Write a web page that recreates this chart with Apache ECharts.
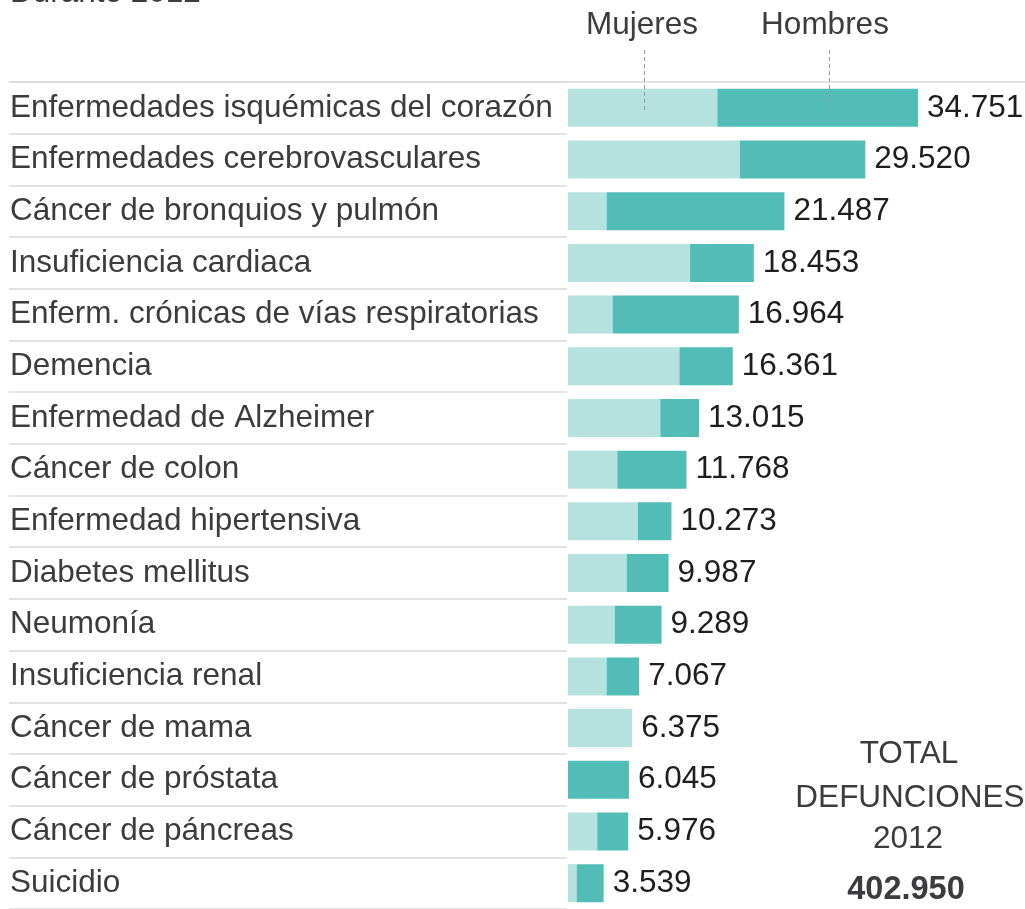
<!DOCTYPE html>
<html>
<head>
<meta charset="utf-8">
<script src="https://cdn.jsdelivr.net/npm/echarts@6/dist/echarts.min.js"></script>
<style>
  html, body { margin: 0; padding: 0; background: #fff; }
  #main { width: 1025px; height: 909px; }
</style>
</head>
<body>
<div id="main"></div>
<script>
  // causas de muerte, 2012
  var causas = [
    'Enfermedades isquémicas del corazón',
    'Enfermedades cerebrovasculares',
    'Cáncer de bronquios y pulmón',
    'Insuficiencia cardiaca',
    'Enferm. crónicas de vías respiratorias',
    'Demencia',
    'Enfermedad de Alzheimer',
    'Cáncer de colon',
    'Enfermedad hipertensiva',
    'Diabetes mellitus',
    'Neumonía',
    'Insuficiencia renal',
    'Cáncer de mama',
    'Cáncer de próstata',
    'Cáncer de páncreas',
    'Suicidio'
  ];
  var totales = [34751, 29520, 21487, 18453, 16964, 16361, 13015, 11768, 10273, 9987, 9289, 7067, 6375, 6045, 5976, 3539];
  var mujeres = [14830, 17080, 3840, 12120, 4440, 11060, 9170, 4900, 6950, 5830, 4640, 3840, 6375, 0, 2910, 860];
  var hombres = [19921, 12440, 17647, 6333, 12524, 5301, 3845, 6868, 3323, 4157, 4649, 3227, 0, 6045, 3066, 2679];
  var totalDefunciones = 402950;

  var fuente = '"Liberation Sans", Arial, sans-serif';
  var tam = 31.5;
  var gris = '#3d3a40';

  function miles(n) {
    return String(n).replace(/\B(?=(\d{3})+(?!\d))/g, '.');
  }

  var chart = echarts.init(document.getElementById('main'));

  var option = {
    animation: false,
    textStyle: { fontFamily: fuente },
    grid: [
      { left: 568, width: 350, top: 82, height: 831 },
      { left: 9, width: 558, top: 82, height: 831 }
    ],
    xAxis: [
      { gridIndex: 0, type: 'value', min: 0, max: Math.max.apply(null, totales), show: false },
      { gridIndex: 1, type: 'value', show: false }
    ],
    yAxis: [
      {
        gridIndex: 0, type: 'category', data: causas, inverse: true,
        axisLine: { show: false }, axisTick: { show: false },
        axisLabel: {
          margin: 558, align: 'left', color: gris,
          fontFamily: fuente, fontSize: tam, padding: [4, 0, 0, 0]
        }
      },
      {
        gridIndex: 1, type: 'category', data: causas, inverse: true,
        axisLine: { show: false }, axisTick: { show: false },
        axisLabel: { show: false },
        splitLine: { show: true, interval: 0, lineStyle: { color: '#dadada', width: 1.5 } }
      }
    ],
    series: [
      {
        name: 'Mujeres', type: 'bar', stack: 'total',
        xAxisIndex: 0, yAxisIndex: 0,
        barWidth: 38, data: mujeres,
        itemStyle: { color: '#b5e2df' }
      },
      {
        name: 'Hombres', type: 'bar', stack: 'total',
        xAxisIndex: 0, yAxisIndex: 0,
        barWidth: 38, data: hombres,
        itemStyle: { color: '#52bcb6' },
        label: {
          show: true, position: 'right', distance: 9,
          color: '#1e1e1e', fontFamily: fuente, fontSize: tam,
          padding: [4, 0, 0, 0],
          formatter: function (p) { return miles(totales[p.dataIndex]); }
        }
      }
    ],
    graphic: [
      { type: 'text', left: 10, top: -23,
        style: { text: 'Durante 2012', font: tam + 'px ' + fuente, fill: gris } },
      { type: 'text', x: 642, y: 25,
        style: { text: 'Mujeres', font: tam + 'px ' + fuente, fill: gris, align: 'center', verticalAlign: 'middle' } },
      { type: 'text', x: 825, y: 25,
        style: { text: 'Hombres', font: tam + 'px ' + fuente, fill: gris, align: 'center', verticalAlign: 'middle' } },
      { type: 'line', shape: { x1: 9, y1: 82, x2: 1025, y2: 82 },
        style: { stroke: '#dadada', lineWidth: 1.5 } },
      { type: 'line', z: 100, shape: { x1: 644.5, y1: 50, x2: 644.5, y2: 111 },
        style: { stroke: '#999', lineWidth: 1, lineDash: [4, 3] } },
      { type: 'line', z: 100, shape: { x1: 829.5, y1: 50, x2: 829.5, y2: 111 },
        style: { stroke: '#999', lineWidth: 1, lineDash: [4, 3] } },
      { type: 'text', x: 909, y: 754,
        style: { text: 'TOTAL', font: tam + 'px ' + fuente, fill: gris, align: 'center', verticalAlign: 'middle' } },
      { type: 'text', x: 910, y: 798,
        style: { text: 'DEFUNCIONES', font: tam + 'px ' + fuente, fill: gris, align: 'center', verticalAlign: 'middle' } },
      { type: 'text', x: 908, y: 839,
        style: { text: '2012', font: tam + 'px ' + fuente, fill: gris, align: 'center', verticalAlign: 'middle' } },
      { type: 'text', x: 906, y: 890,
        style: { text: miles(totalDefunciones), font: 'bold 32.5px ' + fuente, fill: gris, align: 'center', verticalAlign: 'middle' } }
    ]
  };

  chart.setOption(option);
</script>
</body>
</html>
